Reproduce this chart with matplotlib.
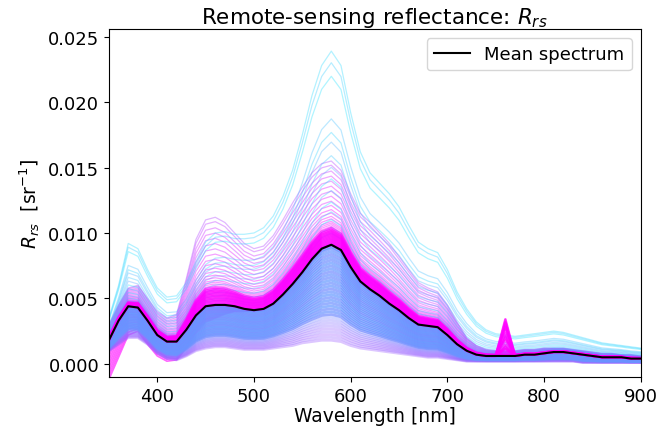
import numpy as np
import matplotlib
matplotlib.use("Agg")
import matplotlib.pyplot as plt

# wavelength grid [nm]
wavelength = np.arange(350, 901, 10)

# mean spectrum (sr^-1)
mean_rrs = [0.0018, 0.0033, 0.0044, 0.0043, 0.0033, 0.0022, 0.0017, 0.0017, 0.0026, 0.0037,
            0.0044, 0.0045, 0.0045, 0.0044, 0.0042, 0.0041, 0.0042, 0.0046, 0.0053, 0.0061,
            0.0070, 0.0080, 0.0088, 0.0091, 0.0087, 0.0074, 0.0063, 0.0057, 0.0052, 0.0046,
            0.0041, 0.0035, 0.0030, 0.0029, 0.0028, 0.0022, 0.0015, 0.0010, 0.0007, 0.0006,
            0.0006, 0.0006, 0.0006, 0.0007, 0.0007, 0.0008, 0.0009, 0.0009, 0.0008, 0.0007,
            0.0006, 0.0005, 0.0005, 0.0005, 0.0004, 0.0004]

# brightest (cyan) spectrum
cyan_top = [0.0035, 0.0060, 0.0092, 0.0088, 0.0072, 0.0058, 0.0051, 0.0052, 0.0062, 0.0078,
            0.0093, 0.0100, 0.0101, 0.0099, 0.0099, 0.0100, 0.0104, 0.0113, 0.0128, 0.0148,
            0.0175, 0.0205, 0.0228, 0.0239, 0.0228, 0.0192, 0.0162, 0.0146, 0.0138, 0.0130,
            0.0120, 0.0106, 0.0093, 0.0088, 0.0085, 0.0072, 0.0055, 0.0042, 0.0032, 0.0026,
            0.0023, 0.0022, 0.0021, 0.0022, 0.0023, 0.0024, 0.0025, 0.0024, 0.0022, 0.0020,
            0.0018, 0.0016, 0.0015, 0.0014, 0.0013, 0.0012]

# purple/pink spectra with strong 460 nm peak
magenta_hi = [0.0030, 0.0045, 0.0058, 0.0060, 0.0050, 0.0040, 0.0035, 0.0038, 0.0065, 0.0095,
              0.0110, 0.0112, 0.0108, 0.0100, 0.0092, 0.0088, 0.0090, 0.0098, 0.0110, 0.0123,
              0.0135, 0.0146, 0.0153, 0.0155, 0.0148, 0.0130, 0.0115, 0.0108, 0.0100, 0.0092,
              0.0082, 0.0072, 0.0062, 0.0058, 0.0055, 0.0045, 0.0032, 0.0020, 0.0014, 0.0011,
              0.0010, 0.0010, 0.0010, 0.0011, 0.0011, 0.0012, 0.0012, 0.0012, 0.0011, 0.0010,
              0.0009, 0.0008, 0.0008, 0.0007, 0.0007, 0.0006]

# low magenta edge in the blue part of the spectrum
magenta_lo = [-0.0012, 0.0005, 0.0022, 0.0025, 0.0015, 0.0006, 0.0002, 0.0003, 0.0012, 0.0024,
              0.0032, 0.0035, 0.0038, 0.0040, 0.0040, 0.0041, 0.0042, 0.0046, 0.0053, 0.0061,
              0.0070, 0.0080, 0.0088, 0.0091, 0.0087, 0.0074, 0.0063, 0.0057, 0.0052, 0.0046,
              0.0041, 0.0035, 0.0030, 0.0029, 0.0028, 0.0022, 0.0015, 0.0010, 0.0007, 0.0005,
              0.0005, 0.0005, 0.0005, 0.0006, 0.0006, 0.0007, 0.0008, 0.0008, 0.0007, 0.0006,
              0.0005, 0.0004, 0.0003, 0.0004, 0.0002, 0.0001]

# darkest (lavender) spectrum
low_rrs = [0.0010, 0.0015, 0.0020, 0.0020, 0.0015, 0.0008, 0.0004, 0.0003, 0.0006, 0.0010,
           0.0012, 0.0013, 0.0013, 0.0012, 0.0011, 0.0011, 0.0011, 0.0012, 0.0013, 0.0014,
           0.0016, 0.0017, 0.0018, 0.0018, 0.0017, 0.0014, 0.0012, 0.0011, 0.0010, 0.0009,
           0.0008, 0.0007, 0.0006, 0.0005, 0.0005, 0.0004, 0.0003, 0.0002, 0.0002, 0.0002,
           0.0002, 0.0002, 0.0002, 0.0002, 0.0002, 0.0002, 0.0002, 0.0002, 0.0002, 0.0001,
           0.0001, 0.0001, 0.0001, 0.0001, 0.0001, 0.0001]

# O2 band spike at 760 nm
o2_peak = [0.0] * 41 + [0.0028] + [0.0] * 14

# weights of each family between mean and its end-member, plus colormap position
cyan_w = [1.0, 0.94, 0.87, 0.65, 0.58, 0.53, 0.46, 0.40, 0.34, 0.28, 0.22, 0.17, 0.13, 0.09, 0.06]
cyan_c = [0.15, 0.20, 0.12, 0.25, 0.18, 0.30, 0.22, 0.35, 0.15, 0.28, 0.10, 0.20, 0.05, 0.12, 0.08]

pink_w = [1.0, 0.95, 0.88, 0.82, 0.76, 0.70, 0.64, 0.58, 0.52, 0.47, 0.42, 0.38, 0.34, 0.31,
          0.28, 0.26, 0.24, 0.22]
pink_c = [0.70, 0.75, 0.80, 0.85, 0.78, 0.88, 0.82, 0.90, 0.86, 0.92, 0.95, 0.90, 0.96, 0.93,
          0.98, 0.95, 1.0, 0.97]

# fraction of the way from the darkest spectrum up to the mean
blue_w = [0.0, 0.03, 0.06, 0.09, 0.12, 0.15, 0.18, 0.21, 0.24, 0.27, 0.30, 0.33, 0.36, 0.39,
          0.42, 0.45, 0.48, 0.51, 0.54, 0.57, 0.60, 0.63, 0.66, 0.69, 0.72, 0.75, 0.78, 0.81,
          0.84, 0.87, 0.90, 0.93, 0.96, 0.98, 1.0]
blue_c = [0.62, 0.60, 0.62, 0.58, 0.60, 0.57, 0.55, 0.52, 0.48, 0.45, 0.42, 0.44, 0.40, 0.43,
          0.41, 0.44, 0.40, 0.42, 0.45, 0.41, 0.43, 0.40, 0.44, 0.42, 0.45, 0.41, 0.43, 0.40,
          0.44, 0.42, 0.45, 0.41, 0.43, 0.40, 0.42]

dense_w = [0.0, 0.015, 0.03, 0.045, 0.06, 0.075, 0.09, 0.105, 0.12, 0.135, 0.15, 0.165, 0.18, 0.20]
lo_w = [0.1, 0.2, 0.3, 0.4, 0.5, 0.6, 0.7, 0.8, 0.9, 1.0]
spike_frac = [0.2, 1.0, 0.5, 0.0, 0.8, 0.3, 0.0, 0.6, 0.1, 0.9, 0.4, 0.0, 0.7, 0.2]

mean_a = np.array(mean_rrs)
cmap = plt.cm.cool

fig = plt.figure(figsize=(6.64, 4.27), dpi=100)
ax = fig.add_axes([0.164, 0.115, 0.801, 0.815])

for w, c in zip(pink_w, pink_c):
    ax.plot(wavelength, mean_a + w * (np.array(magenta_hi) - mean_a), color=cmap(c), lw=0.9, alpha=0.4)
for w, c in zip(cyan_w, cyan_c):
    ax.plot(wavelength, mean_a + w * (np.array(cyan_top) - mean_a), color=cmap(c), lw=0.9, alpha=0.35)
for w, s in zip(lo_w, spike_frac):
    ax.plot(wavelength, mean_a + w * (np.array(magenta_lo) - mean_a) + s * np.array(o2_peak),
            color=cmap(1.0), lw=1.2, alpha=0.6)
for w, c in zip(blue_w, blue_c):
    alpha = 0.35 if w < 0.25 else 0.7
    ax.plot(wavelength, np.array(low_rrs) + w * (mean_a - np.array(low_rrs)),
            color=cmap(c), lw=2.0, alpha=alpha)
for w, s in zip(dense_w, spike_frac):
    ax.plot(wavelength, mean_a + w * (np.array(magenta_hi) - mean_a) + s * np.array(o2_peak),
            color=cmap(1.0), lw=1.8, alpha=0.65)

ax.plot(wavelength, mean_rrs, color="black", lw=1.5, label="Mean spectrum", zorder=10)

ax.set_xlim(350, 900)
ax.set_ylim(-0.001, 0.0256)
ax.set_xticks([400, 500, 600, 700, 800, 900])
ax.set_yticks([0.0, 0.005, 0.010, 0.015, 0.020, 0.025])
ax.tick_params(labelsize=13)
ax.set_title("Remote-sensing reflectance: $R_{rs}$", fontsize=15.5, pad=4)
ax.set_xlabel("Wavelength [nm]", fontsize=13.5, labelpad=1)
ax.set_ylabel("$R_{rs}$  [sr$^{-1}$]", fontsize=13.5)
ax.legend(loc="upper right", fontsize=13)

fig.savefig("out.png", dpi=100)
